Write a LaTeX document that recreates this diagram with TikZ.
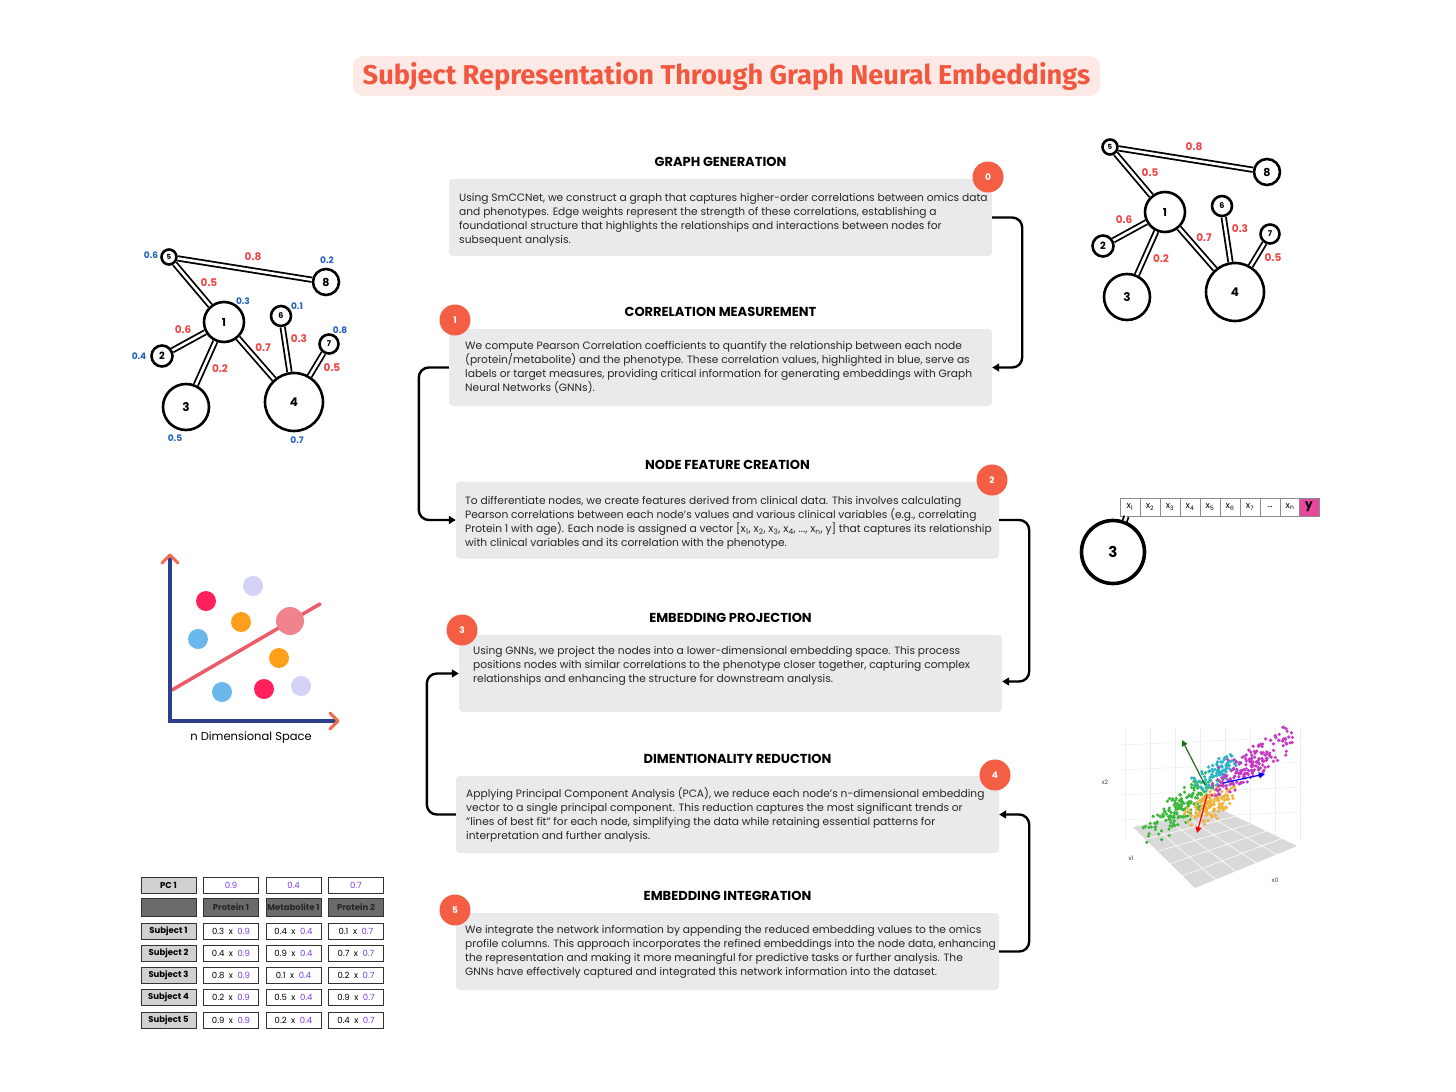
\documentclass[tikz,border=0pt]{standalone}
\usepackage{fontspec}
\setmainfont{Poppins}
\newfontfamily\titlefont{Fira Sans}
\usetikzlibrary{arrows.meta,positioning,calc}
\definecolor{titlered}{HTML}{F2573F}
\definecolor{titlebg}{HTML}{FDEAE6}
\definecolor{badgered}{HTML}{F45E45}
\definecolor{boxgray}{HTML}{EAEAEC}
\definecolor{weightred}{HTML}{F04545}
\definecolor{corrblue}{HTML}{2060C0}
\definecolor{pcpurple}{HTML}{7A3CF0}
\definecolor{ypink}{HTML}{E5499B}
\definecolor{axisnavy}{HTML}{2D3E8A}
\definecolor{axistip}{HTML}{F26B50}
\definecolor{fitline}{HTML}{EE5A66}
\definecolor{dotred}{HTML}{FF1F5A}
\definecolor{dotorange}{HTML}{FF9F1C}
\definecolor{dotblue}{HTML}{6BB8EC}
\definecolor{dotlilac}{HTML}{D4D2F7}
\definecolor{dotpink}{HTML}{F0838D}
\definecolor{ptgreen}{HTML}{3CB83C}
\definecolor{ptyellow}{HTML}{F0B43C}
\definecolor{ptcyan}{HTML}{2BB5C8}
\definecolor{ptmagenta}{HTML}{C43CC4}
\newcommand{\pcval}[1]{\textcolor{pcpurple}{#1}}
\newcommand{\corrgraph}{%
  \node[gnode, minimum size=15pt, font=\fontsize{7}{7}\selectfont\bfseries] (g5) at (169,257) {5};
  \node[gnode, minimum size=26pt, font=\fontsize{11}{11}\selectfont\bfseries] (g8) at (326,282) {8};
  \node[gnode, minimum size=40pt, font=\fontsize{11}{11}\selectfont\bfseries] (g1) at (224,322) {1};
  \node[gnode, minimum size=20pt, font=\fontsize{8}{8}\selectfont\bfseries] (g6) at (281,316) {6};
  \node[gnode, minimum size=19pt, font=\fontsize{8}{8}\selectfont\bfseries] (g7) at (329,344) {7};
  \node[gnode, minimum size=21pt, font=\fontsize{10}{10}\selectfont\bfseries] (g2) at (162,356) {2};
  \node[gnode, minimum size=46pt, font=\fontsize{12}{12}\selectfont\bfseries] (g3) at (186,407) {3};
  \node[gnode, minimum size=58pt, font=\fontsize{12}{12}\selectfont\bfseries] (g4) at (294,402) {4};
  \foreach \a/\b in {5/8,5/1,1/2,1/3,1/4,6/4,7/4}
    \draw[link] (g\a) -- (g\b);
  \node[wlabel] (w58) at (253,257) {0.8};
  \node[wlabel] (w51) at (209,283) {0.5};
  \node[wlabel] (w12) at (183,330) {0.6};
  \node[wlabel] (w13) at (220,369) {0.2};
  \node[wlabel] (w14) at (263,348) {0.7};
  \node[wlabel] (w64) at (299,339) {0.3};
  \node[wlabel] (w74) at (332,368) {0.5};
}
\tikzset{
  titlebox/.style={fill=titlebg, rounded corners=10pt, minimum width=747pt, minimum height=40pt, inner sep=0pt, text=titlered, font=\titlefont\bfseries\fontsize{27.2}{30}\selectfont},
  textbox/.style={fill=boxgray, rounded corners=4pt, minimum width=543pt, minimum height=77pt, inner sep=0pt},
  bodytext/.style={anchor=west, align=left, inner sep=0pt, text=black!85, font=\fontsize{10.65}{14}\selectfont},
  stephead/.style={inner sep=0pt, font=\fontsize{13}{14}\selectfont\bfseries},
  badge/.style={circle, fill=badgered, text=white, minimum size=31pt, inner sep=0pt, font=\fontsize{9}{9}\selectfont\bfseries},
  flow/.style={line width=2.4pt, rounded corners=10pt, -{Triangle[length=7pt,width=8pt]}},
  gnode/.style={circle, draw, line width=2.6pt, fill=white, inner sep=0pt},
  link/.style={line width=1.8pt, double=white, double distance=2.6pt},
  wlabel/.style={inner sep=0pt, text=weightred, font=\fontsize{10.5}{10}\selectfont\bfseries},
  clabel/.style={inner sep=0pt, text=corrblue, font=\fontsize{9}{9}\selectfont\bfseries},
  tcell/.style={draw=black!80, line width=1pt, fill=white, minimum width=55pt, minimum height=16pt, inner sep=0pt, font=\fontsize{8.5}{8}\selectfont},
  rowhead/.style={tcell, fill=black!18, font=\fontsize{8.5}{8}\selectfont\bfseries},
  colhead/.style={tcell, fill=black!58, minimum height=18pt, text=black!85, font=\fontsize{8.5}{8}\selectfont\bfseries},
  vcell/.style={draw=black!45, line width=0.8pt, fill=white, minimum width=20pt, minimum height=18pt, inner sep=0pt, font=\fontsize{9}{9}\selectfont},
  axislbl/.style={inner sep=0pt, text=black!75, font=\fontsize{6}{6}\selectfont}
}
\begin{document}
\begin{tikzpicture}[x=1pt, y=-1pt]
  \useasboundingbox (0,0) rectangle (1456,1092);
  \fill[white] (0,0) rectangle (1456,1092);

  \node[titlebox] (title) at (726.5,76) {Subject Representation Through Graph Neural Embeddings};

  \node[textbox] (box0) at (720.5,217.5) {};
  \node[textbox] (box1) at (720.5,367.5) {};
  \node[textbox] (box2) at (727.5,520) {};
  \node[textbox] (box3) at (730.5,673.5) {};
  \node[textbox] (box4) at (727.5,814.5) {};
  \node[textbox] (box5) at (727.5,951.5) {};

  \node[stephead, above=12pt of box0] (head0) {GRAPH GENERATION};
  \node[stephead, above=12pt of box1] (head1) {CORRELATION MEASUREMENT};
  \node[stephead, above=12pt of box2] (head2) {NODE FEATURE CREATION};
  \node[stephead, above=12pt of box3] (head3) {EMBEDDING PROJECTION};
  \node[stephead, above=12pt of box4, xshift=10pt] (head4) {DIMENTIONALITY REDUCTION};
  \node[stephead, above=12pt of box5] (head5) {EMBEDDING INTEGRATION};

  \node[bodytext] (txt0) at (459,220) {Using SmCCNet, we construct a graph that captures higher-order correlations between omics data\\
    and phenotypes. Edge weights represent the strength of these correlations, establishing a\\
    foundational structure that highlights the relationships and interactions between nodes for\\
    subsequent analysis.};
  \node[bodytext] (txt1) at (465,367) {We compute Pearson Correlation coefficients to quantify the relationship between each node\\
    (protein/metabolite) and the phenotype. These correlation values, highlighted in blue, serve as\\
    labels or target measures, providing critical information for generating embeddings with Graph\\
    Neural Networks (GNNs).};
  \node[bodytext] (txt2) at (465,523) {To differentiate nodes, we create features derived from clinical data. This involves calculating\\
    Pearson correlations between each node's values and various clinical variables (e.g., correlating\\
    Protein 1 with age). Each node is assigned a vector [x\textsubscript{1}, x\textsubscript{2}, x\textsubscript{3}, x\textsubscript{4}, ..., x\textsubscript{n}, y] that captures its relationship\\
    with clinical variables and its correlation with the phenotype.};
  \node[bodytext] (txt3) at (473,665.5) {Using GNNs, we project the nodes into a lower-dimensional embedding space. This process\\
    positions nodes with similar correlations to the phenotype closer together, capturing complex\\
    relationships and enhancing the structure for downstream analysis.};
  \node[bodytext] (txt4) at (466,814.5) {Applying Principal Component Analysis (PCA), we reduce each node's n-dimensional embedding\\
    vector to a single principal component. This reduction captures the most significant trends or\\
    "lines of best fit" for each node, simplifying the data while retaining essential patterns for\\
    interpretation and further analysis.};
  \node[bodytext] (txt5) at (465,952) {We integrate the network information by appending the reduced embedding values to the omics\\
    profile columns. This approach incorporates the refined embeddings into the node data, enhancing\\
    the representation and making it more meaningful for predictive tasks or further analysis. The\\
    GNNs have effectively captured and integrated this network information into the dataset.};

  \node[badge] (badge0) at (988,177) {0};
  \node[badge] (badge1) at (455,320) {1};
  \node[badge] (badge2) at (992,480) {2};
  \node[badge] (badge3) at (462,630) {3};
  \node[badge] (badge4) at (995,775) {4};
  \node[badge] (badge5) at (455,910) {5};

  \draw[flow] (box0.east) -- ++(30,0) |- (box1.east);
  \draw[flow] (box1.west) -- ++(-30,0) |- (box2.west);
  \draw[flow] (box2.east) -- ++(30,0) |- ([yshift=-8pt]box3.east);
  \draw[flow] (box4.west) -- ++(-29,0) |- (box3.west);
  \draw[flow] (box5.east) -- ++(30,0) |- (box4.east);

  \begin{scope}[name prefix=left-]
    \corrgraph
    \node[clabel] (c5) at (151,255) {0.6};
    \node[clabel] (c8) at (327,260) {0.2};
    \node[clabel] (c1) at (243,301) {0.3};
    \node[clabel] (c6) at (297,306) {0.1};
    \node[clabel] (c7) at (340,330) {0.8};
    \node[clabel] (c2) at (139,356) {0.4};
    \node[clabel] (c3) at (175,438) {0.5};
    \node[clabel] (c4) at (297,440) {0.7};
  \end{scope}
  \begin{scope}[shift={(941,-110)}, name prefix=right-]
    \corrgraph
  \end{scope}

  \foreach \i/\lab in {1/x\textsubscript{1},2/x\textsubscript{2},3/x\textsubscript{3},4/x\textsubscript{4},5/x\textsubscript{5},6/x\textsubscript{6},7/x\textsubscript{7},8/{\dots},9/x\textsubscript{n}}
    \node[vcell] (vx\i) at ({1110+20*\i},507) {\lab};
  \node[vcell, fill=ypink, font=\fontsize{12}{12}\selectfont\bfseries] (vy) at (1309,507) {y};
  \node[gnode, line width=3.6pt, minimum size=63pt, font=\fontsize{15}{15}\selectfont\bfseries] (v3) at (1113,552) {3};
  \draw[link] (v3) -- (vx1);

  \draw[fitline, line width=3.5pt, line cap=round] (172,690) -- (320,604);
  \fill[dotlilac] (253,586) circle (10pt);
  \fill[dotred] (206,601) circle (10pt);
  \fill[dotorange] (241,622) circle (10pt);
  \fill[dotblue] (198,639) circle (10pt);
  \fill[dotpink] (290,621) circle (14pt);
  \fill[dotorange] (279,658) circle (10pt);
  \fill[dotblue] (222,692) circle (10pt);
  \fill[dotred] (264,689) circle (10pt);
  \fill[dotlilac] (301,686) circle (10pt);
  \draw[axisnavy, line width=4pt] (170,556) -- (170,721) -- (336,721);
  \draw[axistip, line width=3pt, line cap=round, line join=round] (162,563) -- (170,555) -- (178,563);
  \draw[axistip, line width=3pt, line cap=round, line join=round] (330,713) -- (338,721) -- (330,729);
  \node[inner sep=0pt, font=\fontsize{11.5}{12}\selectfont] (ndspace) at (251,738) {n Dimensional Space};

  \node[rowhead] (pc) at (168.5,885) {PC 1};
  \node[tcell] (pc-1) at (231,885) {\pcval{0.9}};
  \node[tcell] (pc-2) at (293.5,885) {\pcval{0.4}};
  \node[tcell] (pc-3) at (356,885) {\pcval{0.7}};
  \node[colhead] (hd) at (168.5,907) {};
  \node[colhead] (hd-1) at (231,907) {Protein 1};
  \node[colhead] (hd-2) at (293.5,907) {Metabolite 1};
  \node[colhead] (hd-3) at (356,907) {Protein 2};
  \foreach \row/\yy/\a/\b/\c in {1/931/0.3/0.4/0.1,2/953/0.4/0.9/0.7,3/975/0.8/0.1/0.2,4/997/0.2/0.5/0.9,5/1020/0.9/0.2/0.4}{
    \node[rowhead] (subj\row) at (168.5,\yy) {Subject \row};
    \node[tcell] (subj\row-1) at (231,\yy) {\a\ \ x\ \ \pcval{0.9}};
    \node[tcell] (subj\row-2) at (293.5,\yy) {\b\ \ x\ \ \pcval{0.4}};
    \node[tcell] (subj\row-3) at (356,\yy) {\c\ \ x\ \ \pcval{0.7}};
  }

  \foreach \gx in {1125,1150,...,1300}
    \draw[black!7, line width=0.5pt] (\gx,728) -- (\gx,840);
  \foreach \gy in {745,770,795,820}
    \draw[black!7, line width=0.5pt] (1120,\gy) -- (1300,\gy-8);
  \fill[black!15] (1133,827) -- (1220,809) -- (1297,846) -- (1195,888) -- cycle;
  \foreach \t in {0.2,0.4,0.6,0.8}{
    \draw[white, line width=0.6pt] ($(1133,827)!\t!(1220,809)$) -- ($(1195,888)!\t!(1297,846)$);
    \draw[white, line width=0.6pt] ($(1133,827)!\t!(1195,888)$) -- ($(1220,809)!\t!(1297,846)$);
  }
  \pgfmathsetseed{7}
  \foreach \cx/\cy/\sa/\sb/\col/\nn in {1180/808/30/12/ptgreen/170,1210/806/20/10/ptyellow/130,1218/772/18/9/ptcyan/100,1250/765/32/12/ptmagenta/180}{
    \foreach \k in {1,...,\nn}{
      \pgfmathsetmacro\u{(rand+rand)/1.4}
      \pgfmathsetmacro\v{(rand+rand)/1.4}
      \fill[\col] ({\cx+\sa*\u+0.4*\sb*\v},{\cy-0.7*\sa*\u+\sb*\v}) circle (1.8pt);
    }
  }
  \draw[ptgreen!60!black, line width=1.2pt, -{Triangle[length=6pt,width=6pt]}] (1205,785) -- (1182,740);
  \draw[blue, line width=1.2pt, -{Triangle[length=6pt,width=6pt]}] (1223,783) -- (1265,774);
  \draw[red, line width=1.2pt, -{Triangle[length=6pt,width=6pt]}] (1207,795) -- (1197,833);
  \node[axislbl] (lx2) at (1105,782) {x2};
  \node[axislbl] (lx1) at (1131,858) {x1};
  \node[axislbl] (lx0) at (1275,880) {x0};
\end{tikzpicture}
\end{document}
